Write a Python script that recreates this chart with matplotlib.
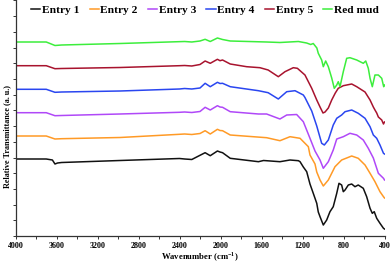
import matplotlib
matplotlib.use('Agg')
import matplotlib.pyplot as plt
import numpy as np
from matplotlib.ticker import MultipleLocator

plt.rcParams['font.family'] = 'Liberation Serif'
plt.rcParams['font.weight'] = 'bold'
plt.rcParams['mathtext.fontset'] = 'custom'
plt.rcParams['mathtext.rm'] = 'Liberation Serif:bold'
plt.rcParams['mathtext.bf'] = 'Liberation Serif:bold'

labels = ['Entry 1', 'Entry 2', 'Entry 3', 'Entry 4', 'Entry 5', 'Red mud']
colors = ['#111111', '#ff9a26', '#b048f8', '#2a46f0', '#a8132e', '#3cee3c']

# FTIR spectra, stacked (relative transmittance, a.u.)
wn_e1 = [4000, 3700, 3640, 3615, 3590, 3550, 2980, 2400, 2350, 2280, 2200, 2150, 2100, 2030, 2005,
         1980, 1905, 1630, 1580, 1420, 1322, 1240, 1224, 1192, 1159, 1127, 1095, 1061, 1046, 1029,
         997, 964, 932, 900, 866, 844, 818, 802, 785, 753, 720, 688, 656, 607, 574, 541, 519, 500,
         476, 444, 410, 400]
t_e1 = [0.77, 0.77, 0.76, 0.72, 0.73, 0.735, 0.755, 0.775, 0.77, 0.765, 0.807, 0.833, 0.803, 0.85, 0.84,
        0.833, 0.777, 0.743, 0.755, 0.743, 0.76, 0.753, 0.743, 0.69, 0.643, 0.52, 0.427, 0.327, 0.24, 0.193,
        0.11, 0.16, 0.243, 0.293, 0.427, 0.527, 0.51, 0.443, 0.46, 0.51, 0.52, 0.493, 0.51, 0.477, 0.393,
        0.277, 0.227, 0.243, 0.177, 0.127, 0.077, 0.07]

wn_e2 = [4000, 3700, 3615, 3550, 2980, 2400, 2350, 2280, 2200, 2150, 2100, 2030, 2005, 1980, 1905,
         1550, 1420, 1322, 1224, 1143, 1127, 1078, 1061, 1029, 997, 948, 883, 818, 720, 656, 590,
         541, 493, 444, 410, 400]
t_e2 = [1.00, 1.00, 0.97, 0.973, 0.985, 1.017, 1.02, 1.015, 1.025, 1.053, 1.02, 1.067, 1.055, 1.053, 1.01,
        0.983, 0.953, 0.993, 0.977, 0.893, 0.81, 0.72, 0.64, 0.56, 0.50, 0.56, 0.693, 0.76, 0.80, 0.777, 0.71,
        0.627, 0.543, 0.443, 0.393, 0.38]

wn_e3 = [4000, 3700, 3615, 3550, 2980, 2400, 2350, 2280, 2200, 2150, 2100, 2030, 2005, 1980, 1905,
         1630, 1550, 1420, 1354, 1257, 1192, 1127, 1078, 1029, 997, 948, 900, 866, 802, 737, 671,
         607, 558, 509, 460, 410, 400]
t_e3 = [1.233, 1.233, 1.203, 1.205, 1.22, 1.237, 1.24, 1.235, 1.245, 1.287, 1.26, 1.303, 1.29, 1.287, 1.243,
        1.22, 1.22, 1.17, 1.21, 1.215, 1.143, 0.977, 0.85, 0.76, 0.677, 0.743, 0.86, 0.97, 0.993, 1.027, 1.01,
        0.96, 0.877, 0.78, 0.627, 0.577, 0.56]

wn_e4 = [4000, 3700, 3615, 3550, 2980, 2400, 2350, 2280, 2200, 2150, 2100, 2030, 2005, 1980, 1905,
         1630, 1535, 1436, 1354, 1273, 1192, 1176, 1110, 1061, 1013, 987, 948, 900, 866, 818, 785,
         720, 656, 590, 541, 509, 476, 444, 410, 400]
t_e4 = [1.467, 1.467, 1.437, 1.44, 1.45, 1.47, 1.475, 1.47, 1.48, 1.527, 1.493, 1.537, 1.525, 1.527, 1.493,
        1.453, 1.433, 1.37, 1.443, 1.453, 1.41, 1.385, 1.25, 1.10, 0.927, 0.91, 0.96, 1.11, 1.177, 1.21, 1.243,
        1.26, 1.227, 1.177, 1.093, 1.01, 0.977, 0.91, 0.827, 0.82]

wn_e5 = [4000, 3700, 3615, 3550, 2980, 2400, 2350, 2280, 2200, 2150, 2100, 2030, 2005, 1980, 1905,
         1745, 1615, 1535, 1436, 1371, 1290, 1250, 1176, 1110, 1061, 1029, 1000, 980, 948, 915, 890,
         880, 851, 802, 720, 671, 590, 541, 509, 493, 476, 460, 427, 410, 400]
t_e5 = [1.703, 1.703, 1.673, 1.675, 1.685, 1.703, 1.705, 1.70, 1.715, 1.75, 1.727, 1.767, 1.753, 1.76, 1.72,
        1.693, 1.683, 1.66, 1.593, 1.643, 1.683, 1.677, 1.61, 1.477, 1.36, 1.29, 1.23, 1.24, 1.28, 1.36, 1.41,
        1.43, 1.477, 1.503, 1.52, 1.493, 1.44, 1.36, 1.29, 1.26, 1.23, 1.19, 1.16, 1.12, 1.14]

wn_rm = [4000, 3700, 3615, 3550, 2980, 2350, 2280, 2200, 2150, 2100, 2030, 1980, 1905, 1550, 1420,
         1240, 1160, 1120, 1095, 1060, 1046, 1013, 997, 974, 948, 915, 890, 866, 851, 834, 802,
         769, 737, 671, 607, 583, 558, 541, 519, 493, 460, 427, 408, 400]
t_rm = [1.94, 1.94, 1.905, 1.91, 1.925, 1.945, 1.94, 1.95, 1.967, 1.945, 1.98, 1.965, 1.95, 1.94, 1.935,
        1.945, 1.93, 1.915, 1.925, 1.88, 1.827, 1.76, 1.693, 1.75, 1.693, 1.58, 1.477, 1.51, 1.543, 1.493, 1.643,
        1.777, 1.783, 1.76, 1.727, 1.75, 1.677, 1.577, 1.493, 1.61, 1.61, 1.577, 1.493, 1.51]

series = [(wn_e1, t_e1), (wn_e2, t_e2), (wn_e3, t_e3), (wn_e4, t_e4), (wn_e5, t_e5), (wn_rm, t_rm)]

fig = plt.figure(figsize=(3.92, 2.64), dpi=100)
ax = fig.add_axes([15.5 / 392, 28 / 264, 369 / 392, 236 / 264])

for (wn, t), lab, c in zip(series, labels, colors):
    ax.plot(wn, t, color=c, lw=1.1, label=lab)

ax.set_xlim(4000, 400)
ax.set_ylim(0, 2.36)
ax.xaxis.set_major_locator(MultipleLocator(400))
ax.xaxis.set_minor_locator(MultipleLocator(200))
ax.set_yticks(np.arange(0, 2.36, 0.157))
ax.set_yticklabels([])

for s in ['top', 'right']:
    ax.spines[s].set_visible(False)
for s in ['left', 'bottom']:
    ax.spines[s].set_color('#333333')
    ax.spines[s].set_linewidth(0.9)

ax.tick_params(axis='x', which='both', direction='out', length=2, width=0.7,
               labelsize=5.8, pad=2.5, colors='#333333', labelcolor='black')
ax.tick_params(axis='y', direction='out', length=2, width=0.7, colors='#333333')

ax.set_xlabel(r'Wavenumber (cm$^{\mathbf{-1}}$)', fontsize=6.2, fontweight='bold', labelpad=0.5)
ax.set_ylabel('Relative Transmittance (a. u.)', fontsize=5.9, fontweight='bold')
ax.yaxis.set_label_coords(-0.011, 0.42)

fig.legend(loc='center', bbox_to_anchor=(205 / 392, 1 - 10 / 264), ncol=6, frameon=False,
           handlelength=0.8, handletextpad=0.15, columnspacing=0.9,
           borderpad=0, borderaxespad=0, prop={'weight': 'bold', 'size': 8.2})

fig.savefig('out.png', dpi=100)
